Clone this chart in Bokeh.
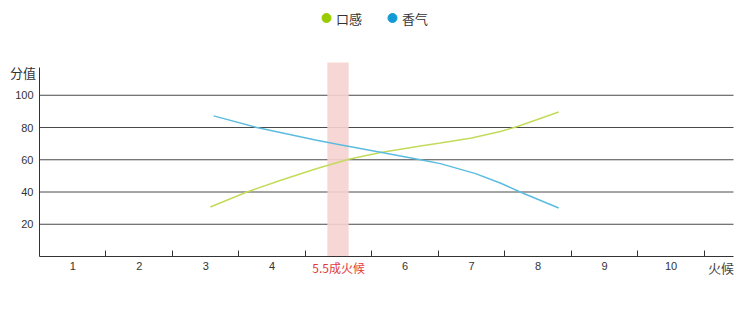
from bokeh.plotting import figure
from bokeh.models import Range1d, FixedTicker, Label, LinearAxis
from bokeh.core.properties import value
from bokeh.embed import file_html
from bokeh.resources import INLINE

# ---- data ----
x_labels = ["1", "2", "3", "4", "5.5成火候", "6", "7", "8", "9", "10"]
highlight_index = 4
x_axis_title = "火候"
y_axis_title = "分值"
y_ticks = [20, 40, 60, 80, 100]

series_names = ["口感", "香气"]
series_colors = ["#99cc00", "#109bd7"]
line_colors = ["#c3db5a", "#5bbcdf"]
taste_x = [3.07, 3.62, 4.13, 4.65, 5.15, 5.63, 6.23, 6.53, 7.00, 7.43, 7.69, 8.31]
taste_y = [30.7, 40.0, 47.3, 54.3, 60.3, 64.5, 68.5, 70.4, 73.5, 77.5, 80.6, 89.6]
aroma_x = [3.12, 3.77, 4.65, 4.98, 5.63, 6.27, 6.53, 7.06, 7.43, 7.73, 8.31]
aroma_y = [87.2, 80.0, 72.2, 69.6, 64.7, 59.7, 57.6, 51.4, 45.6, 40.0, 30.1]

band_left, band_right = 4.83, 5.15

# ---- layout helpers (pixel -> data) ----
W, H = 750, 312
PX_PER_X = 66.48
PX_PER_Y = 1.6125
def dx(px):
    return 0.5 + (px - 39) / PX_PER_X
def dy(py):
    return (256.0 - py) / PX_PER_Y

CJK = "Noto Sans CJK SC"
LAT = "Liberation Sans"

p = figure(width=W, height=H, x_range=Range1d(dx(0), dx(W)), y_range=Range1d(dy(H), dy(0)),
           x_axis_type=None, y_axis_type=None,
           output_backend="svg", toolbar_location=None,
           min_border_left=0, min_border_right=0, min_border_top=0, min_border_bottom=0)
p.outline_line_color = None
p.background_fill_color = "white"
p.xgrid.visible = False
p.ygrid.visible = False

x_end = dx(733)
y_top = dy(67)

# horizontal grid lines at the y ticks
p.segment(x0=[0.5] * len(y_ticks), x1=[x_end] * len(y_ticks), y0=y_ticks, y1=y_ticks,
          line_color="#4a4a4a", line_width=1)

# highlight band
p.quad(left=[band_left], right=[band_right], bottom=[0], top=[dy(62)],
       fill_color="#f6d2d2", fill_alpha=0.9, line_color=None)

# lines
p.line(taste_x, taste_y, line_color=line_colors[0], line_width=1.5)
p.line(aroma_x, aroma_y, line_color=line_colors[1], line_width=1.5)

# y axis
ya = LinearAxis(fixed_location=0.5, bounds=(0, y_top), ticker=FixedTicker(ticks=y_ticks))
ya.axis_line_color = "#333333"
ya.major_tick_line_color = None
ya.minor_tick_line_color = None
ya.major_tick_in = 0
ya.major_tick_out = 0
ya.major_label_standoff = 6
ya.major_label_text_font = LAT
ya.major_label_text_font_size = "11px"
ya.major_label_text_color = "#333333"
p.add_layout(ya, "left")

# x axis
pos = list(range(1, len(x_labels) + 1))
xa = LinearAxis(fixed_location=0, bounds=(0.5, x_end),
                ticker=FixedTicker(ticks=pos, minor_ticks=[v + 0.5 for v in pos]))
xa.major_label_overrides = {v: ("" if i == highlight_index else lbl)
                            for i, (v, lbl) in enumerate(zip(pos, x_labels))}
xa.axis_line_color = "#333333"
xa.major_tick_line_color = None
xa.major_tick_in = 0
xa.major_tick_out = 0
xa.minor_tick_line_color = "#333333"
xa.minor_tick_in = 6
xa.minor_tick_out = 0
xa.major_label_standoff = 5
xa.major_label_text_font = LAT
xa.major_label_text_font_size = "11px"
xa.major_label_text_color = "#333333"
p.add_layout(xa, "below")

# red highlighted tick label
p.add_layout(Label(x=pos[highlight_index], y=dy(267), text=x_labels[highlight_index],
                   text_align="center", text_baseline="middle", text_color="#e23b3b",
                   text_font=CJK, text_font_size="12px"))
# axis titles
p.add_layout(Label(x=dx(720.5), y=dy(267), text=x_axis_title, text_align="center",
                   text_baseline="middle", text_color="#444444",
                   text_font=CJK, text_font_size="13px"))
p.add_layout(Label(x=dx(22.5), y=dy(72), text=y_axis_title, text_align="center",
                   text_baseline="middle", text_color="#333333",
                   text_font=CJK, text_font_size="13px"))

# legend (drawn manually)
p.scatter(x=[dx(326), dx(392)], y=[dy(17.5)] * 2, size=9,
          fill_color=series_colors, line_color=series_colors)
p.text(x=[dx(335.5), dx(401.5)], y=[dy(17.5)] * 2, text=series_names,
       text_font=value(CJK), text_font_size="13px", text_color="#333333",
       text_align="left", text_baseline="middle")

open("out.html", "w").write(file_html(p, INLINE))
